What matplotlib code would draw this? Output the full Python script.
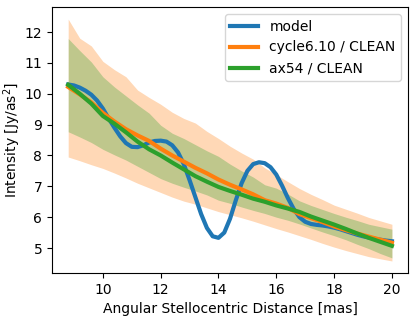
import matplotlib
matplotlib.use("Agg")
import matplotlib.pyplot as plt
import numpy as np

# radial grid of the CLEAN profiles and their bands
r = [8.8, 9.2, 9.6, 10.0, 10.4, 10.8, 11.2, 11.6, 12.0, 12.4, 12.8, 13.2, 13.6, 14.0,
     14.4, 14.8, 15.2, 15.6, 16.0, 16.4, 16.8, 17.2, 17.6, 18.0, 18.4, 18.8, 19.2, 19.6, 20.0]

cyc_mean = [10.22, 9.98, 9.72, 9.38, 9.1, 8.85, 8.65, 8.47, 8.22, 8.0, 7.8, 7.6, 7.42, 7.22,
            7.05, 6.9, 6.74, 6.55, 6.44, 6.3, 6.1, 5.97, 5.84, 5.7, 5.58, 5.47, 5.37, 5.27, 5.17]
cyc_lo = [7.95, 7.83, 7.7, 7.58, 7.43, 7.27, 7.1, 6.95, 6.8, 6.65, 6.52, 6.42, 6.3, 6.18,
          6.08, 5.98, 5.87, 5.75, 5.63, 5.52, 5.4, 5.28, 5.15, 5.03, 4.92, 4.82, 4.72, 4.65, 4.58]
cyc_hi = [12.42, 11.8, 11.55, 11.05, 10.78, 10.55, 10.12, 9.88, 9.66, 9.4, 9.2, 9.05, 8.78, 8.55,
          8.3, 8.08, 7.88, 7.6, 7.38, 7.15, 6.93, 6.74, 6.57, 6.39, 6.26, 6.13, 5.99, 5.88, 5.77]

ax_mean = [10.29, 10.0, 9.68, 9.28, 9.03, 8.75, 8.45, 8.2, 8.0, 7.77, 7.55, 7.33, 7.15, 6.98,
           6.85, 6.73, 6.6, 6.5, 6.38, 6.28, 6.17, 6.02, 5.89, 5.76, 5.62, 5.47, 5.33, 5.2, 5.07]
ax_lo = [8.77, 8.6, 8.42, 8.2, 8.02, 7.85, 7.65, 7.45, 7.25, 7.1, 6.97, 6.85, 6.72, 6.55,
         6.45, 6.33, 6.22, 6.12, 6.0, 5.9, 5.78, 5.65, 5.52, 5.4, 5.27, 5.12, 4.98, 4.82, 4.68]
ax_hi = [11.79, 11.4, 11.03, 10.55, 10.22, 9.93, 9.64, 9.37, 8.98, 8.72, 8.55, 8.35, 8.15, 7.97,
         7.72, 7.5, 7.3, 7.05, 6.94, 6.75, 6.53, 6.38, 6.25, 6.12, 6.0, 5.89, 5.77, 5.69, 5.61]

# model profile (finer grid)
r_mod = [8.8, 9.0, 9.2, 9.4, 9.6, 9.8, 10.0, 10.2, 10.4, 10.6, 10.8, 11.0, 11.2, 11.4, 11.6,
         11.8, 12.0, 12.2, 12.4, 12.6, 12.8, 13.0, 13.2, 13.4, 13.6, 13.8, 14.0, 14.2, 14.4,
         14.6, 14.8, 15.0, 15.2, 15.4, 15.6, 15.8, 16.0, 16.2, 16.4, 16.6, 16.8, 17.0, 17.2,
         17.4, 17.6, 17.8, 18.0, 18.2, 18.4, 18.6, 18.8, 19.0, 19.2, 19.4, 19.6, 19.8, 20.0]
model = [10.3, 10.27, 10.2, 10.1, 9.97, 9.78, 9.52, 9.2, 8.9, 8.62, 8.4, 8.28, 8.27, 8.33, 8.42,
         8.47, 8.48, 8.45, 8.33, 8.1, 7.72, 7.2, 6.65, 6.1, 5.65, 5.38, 5.33, 5.5, 5.95,
         6.55, 7.1, 7.5, 7.72, 7.78, 7.75, 7.62, 7.38, 7.02, 6.62, 6.27, 6.0, 5.85, 5.78,
         5.75, 5.73, 5.7, 5.66, 5.61, 5.55, 5.49, 5.43, 5.38, 5.34, 5.3, 5.27, 5.24, 5.22]

fig = plt.figure(figsize=(4.16, 3.19), dpi=100)
ax = fig.add_axes([0.125, 0.144, 0.856, 0.834])

ax.fill_between(r, cyc_lo, cyc_hi, color="tab:orange", alpha=0.3, lw=0)
ax.fill_between(r, ax_lo, ax_hi, color="tab:green", alpha=0.3, lw=0)
ax.plot(r_mod, model, color="tab:blue", lw=3, label="model")
ax.plot(r, cyc_mean, color="tab:orange", lw=3, label="cycle6.10 / CLEAN")
ax.plot(r, ax_mean, color="tab:green", lw=3, label="ax54 / CLEAN")

ax.set_xticks([10, 12, 14, 16, 18, 20])
ax.set_yticks([5, 6, 7, 8, 9, 10, 11, 12])
ax.set_xlabel("Angular Stellocentric Distance [mas]")
ax.set_ylabel("Intensity [Jy/as$^2$]")
ax.yaxis.set_label_coords(-0.082, 0.5)
ax.legend(loc="upper right")

fig.savefig("out.png", dpi=100)
